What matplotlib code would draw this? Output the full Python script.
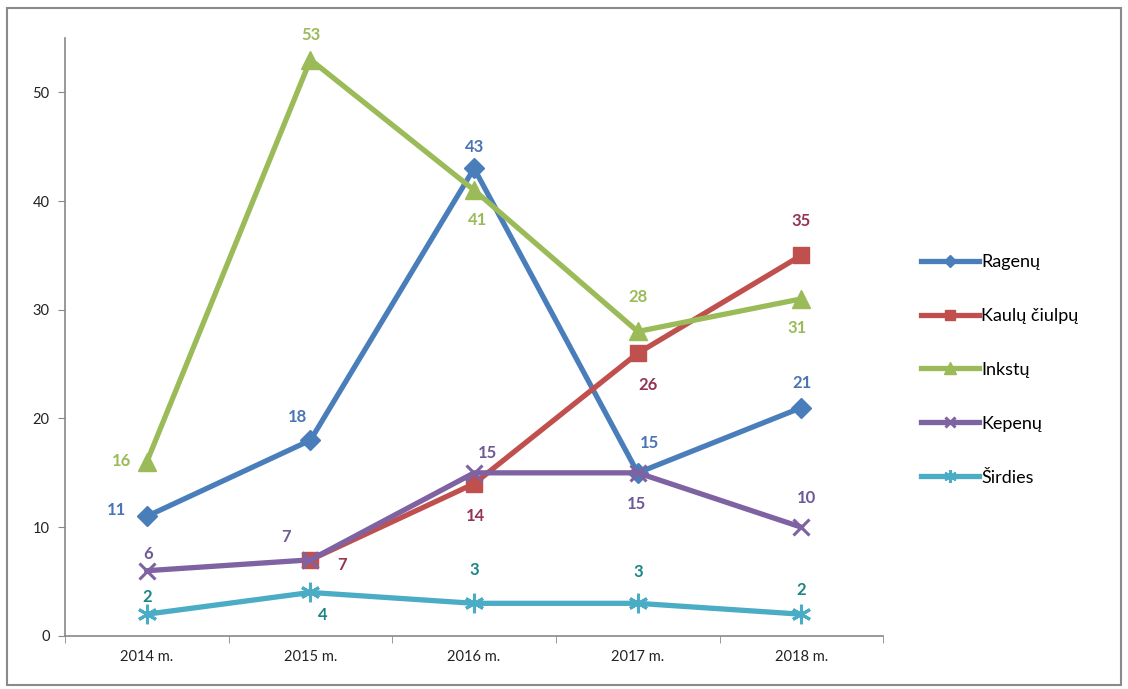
import numpy as np
import matplotlib
matplotlib.use('Agg')
import matplotlib.pyplot as plt
import matplotlib.ticker as ticker
from matplotlib.patches import Rectangle

plt.rcParams['font.family'] = ['Lato', 'DejaVu Sans']

years = ['2014 m.', '2015 m.', '2016 m.', '2017 m.', '2018 m.']
ragenu = [11, 18, 43, 15, 21]
kaulu = [np.nan, 7, 14, 26, 35]
inkstu = [16, 53, 41, 28, 31]
kepenu = [6, 7, 15, 15, 10]
sirdies = [2, 4, 3, 3, 2]

series_names = ['Ragenų', 'Kaulų čiulpų', 'Inkstų', 'Kepenų', 'Širdies']

# label offsets in pixels (dx, dy), one per point
off_ragenu = [(-30, 6), (-13, 23), (0, 21), (12, 30), (1, 25)]
off_kaulu = [None, (32, -5), (1, -32), (10, -32), (0, 34)]
off_inkstu = [(-25, 1), (0, 25), (3, -30), (0, 34), (-4, -29)]
off_kepenu = [(1, 17), (-24, 23), (13, 20), (-1, -31), (5, 29)]
off_sirdies = [(0, 17), (12, -23), (0, 33), (0, 31), (0, 24)]

fig = plt.figure(figsize=(11.28, 6.89), dpi=100)
ax = fig.add_axes([0.0576, 0.077, 0.7254, 0.868])

x = np.arange(len(years))

styles = [
    (ragenu, '#4A7EBB', 'D', 10, '#4A74B4', off_ragenu),
    (kaulu, '#C0504D', 's', 12, '#953553', off_kaulu),
    (inkstu, '#9BBB59', '^', 13, '#9BBB59', off_inkstu),
    (kepenu, '#7E62A1', 'x', 12, '#6E5A96', off_kepenu),
    (sirdies, '#4BACC6', (6, 2, 0), 14, '#1B8585', off_sirdies),
]

for (vals, col, mk, ms, lcol, offs), name in zip(styles, series_names):
    ax.plot(x, vals, color=col, lw=3.8, marker=mk, markersize=ms,
            markeredgewidth=2.2 if mk in ('x', (6, 2, 0)) else 1,
            markeredgecolor=col, markerfacecolor=col, label=name,
            solid_joinstyle='round')
    for xi, v, o in zip(x, vals, offs):
        if o is None or np.isnan(v):
            continue
        ax.annotate(str(int(v)), (xi, v), xytext=o, textcoords='offset pixels',
                    ha='center', va='center', fontsize=12, fontweight='bold',
                    color=lcol)

ax.set_xlim(-0.5, 4.5)
ax.set_ylim(0, 55)
ax.set_yticks([0, 10, 20, 30, 40, 50])
ax.set_xticks(x)
ax.set_xticklabels(years)
ax.xaxis.set_minor_locator(ticker.FixedLocator(np.arange(-0.5, 4.6, 1)))
ax.tick_params(axis='x', which='major', length=0, pad=10, labelsize=10.5, colors='#222222')
ax.tick_params(axis='x', which='minor', length=5, direction='out', color='#888888')
ax.tick_params(axis='y', length=5, direction='out', color='#888888', labelsize=10.5,
               labelcolor='#222222', pad=6)

for side in ['top', 'right']:
    ax.spines[side].set_visible(False)
for side in ['left', 'bottom']:
    ax.spines[side].set_color('#888888')
    ax.spines[side].set_linewidth(1.2)

fig.legend(loc='upper left', bbox_to_anchor=(0.802, 0.655), frameon=False,
           fontsize=13, handlelength=3.2, handletextpad=0.15, labelspacing=2.1,
           markerscale=0.65)

fig.patches.append(Rectangle((0.006, 0.006), 0.988, 0.983, transform=fig.transFigure,
                             fill=False, edgecolor='#8a8a8a', linewidth=1.5))

fig.savefig('out.png', dpi=100)
